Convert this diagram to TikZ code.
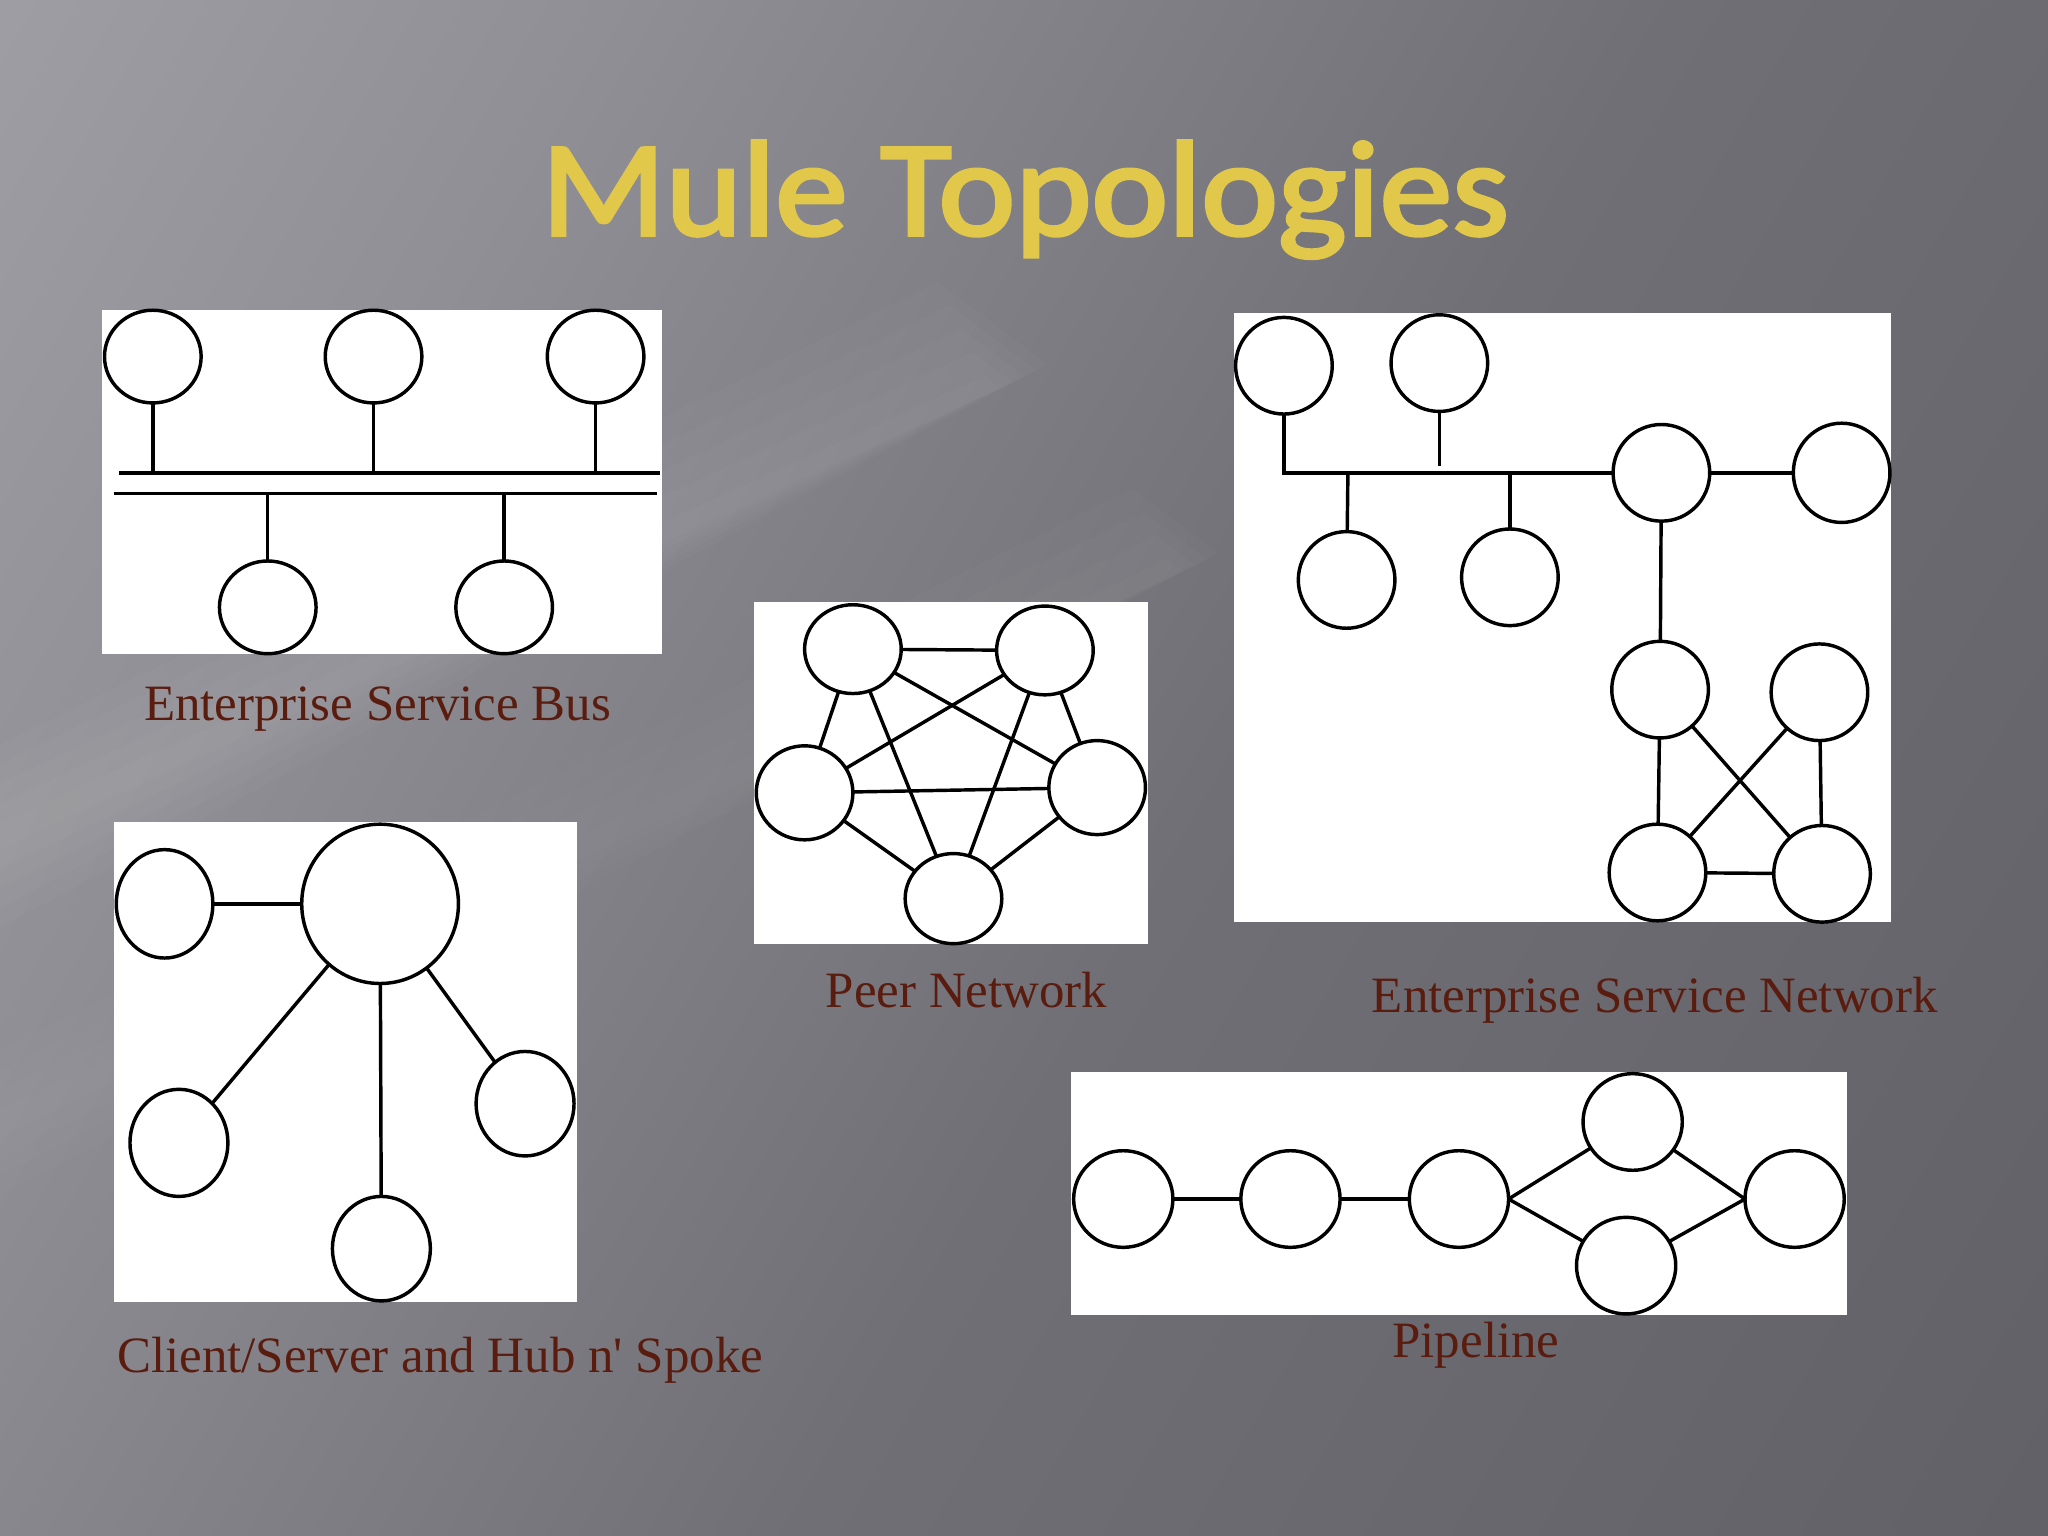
\documentclass[tikz,border=0pt]{standalone}
\usepackage{fontspec}
\setmainfont[Ligatures=TeXOff]{Liberation Serif}
\newfontfamily\titlefont{Carlito}[BoldFont=Carlito, BoldFeatures={FakeBold=2.5}]
\usetikzlibrary{shapes.geometric}
\definecolor{lab}{RGB}{90,28,14}
\definecolor{gold}{RGB}{226,200,74}
\definecolor{bgA}{RGB}{174,173,180}
\definecolor{bgB}{RGB}{144,143,150}
\definecolor{bgC}{RGB}{112,111,118}
\definecolor{bgD}{RGB}{90,89,96}
\pgfdeclarehorizontalshading{bgsh}{100bp}{color(0bp)=(bgA); color(30bp)=(bgB); color(55bp)=(bgC); color(100bp)=(bgD)}
\tikzset{
  nd/.style={ellipse, draw=black, fill=white, line width=1.5pt, inner sep=0pt, outer sep=0pt, minimum width=1.48cm, minimum height=1.44cm},
  ln/.style={draw=black, line width=1.5pt},
  lbl/.style={text=lab, font=\fontsize{22.2}{26}\selectfont, anchor=base, inner sep=0pt},
  panel/.style={fill=white}
}
\begin{document}
\begin{tikzpicture}[x=0.02cm, y=-0.02cm]
% background
\useasboundingbox (0,0) rectangle (1568,1176);
\shade[shading=bgsh, shading angle=-30] (0,0) rectangle (1568,1176);
% soft light streaks
\foreach \w in {10,25,40,55,70}
  \fill[white, opacity=0.018] (0,{640-\w}) -- (0,{640+\w}) -- ({760+\w*0.6},{300-\w*0.3}) -- ({760-\w*0.6},{300-\w*1.2}) -- cycle;
\foreach \w in {10,25,40,55}
  \fill[white, opacity=0.015] (0,{860-\w}) -- (0,{860+\w}) -- ({900+\w*0.6},{440-\w*0.3}) -- ({900-\w*0.6},{440-\w*1.2}) -- cycle;

% title
\node[anchor=base, text=gold, xscale=1.07, font=\titlefont\bfseries\fontsize{59.2}{66}\selectfont] (title) at (785,180) {Mule Topologies};

% ===== Enterprise Service Bus =====
\fill[panel] (78,237) rectangle (507,501);
\node[nd, minimum height=1.42cm] (e1) at (117,273) {};
\node[nd, minimum height=1.42cm] (e2) at (286,273) {};
\node[nd, minimum height=1.42cm] (e3) at (456,273) {};
\node[nd, minimum height=1.42cm] (e4) at (205,465) {};
\node[nd, minimum height=1.42cm] (e5) at (386,465) {};
\coordinate (busAl) at (91,362);  \coordinate (busAr) at (505,362);
\coordinate (busBl) at (87,378);  \coordinate (busBr) at (503,378);
\coordinate (s1) at (117,362); \coordinate (s2) at (286,362); \coordinate (s3) at (456,362);
\coordinate (s4) at (205,378); \coordinate (s5) at (386,378);
\draw[ln] (busAl) -- (busAr);
\draw[ln] (busBl) -- (busBr);
\draw[ln] (e1) -- (s1);
\draw[ln] (e2) -- (s2);
\draw[ln] (e3) -- (s3);
\draw[ln] (e4) -- (s4);
\draw[ln] (e5) -- (s5);
\node[lbl] (lesb) at (289,552) {Enterprise Service Bus};

% ===== Client/Server and Hub n' Spoke =====
\fill[panel] (87,629) rectangle (442,997);
\node[nd, minimum width=2.4cm, minimum height=2.44cm] (hub) at (291,692) {};
\node[nd, minimum height=1.66cm] (c1) at (126,692) {};
\node[nd, minimum width=1.5cm, minimum height=1.64cm] (c2) at (137,875) {};
\node[nd, minimum width=1.5cm, minimum height=1.6cm] (c3) at (292,956) {};
\node[nd, minimum width=1.5cm, minimum height=1.6cm] (c4) at (402,845) {};
\draw[ln] (c1) -- (hub);
\draw[ln] (hub) -- (c2);
\draw[ln] (hub) -- (c3);
\draw[ln] (hub) -- (c4);
\node[lbl] (lcs) at (337,1051) {Client/Server and Hub n' Spoke};

% ===== Peer Network =====
\fill[panel] (577,461) rectangle (879,723);
\node[nd, minimum height=1.36cm] (p1) at (653,497) {};
\node[nd, minimum height=1.36cm] (p2) at (800,498) {};
\node[nd] (p3) at (616,607) {};
\node[nd] (p4) at (840,603) {};
\node[nd, minimum height=1.38cm] (p5) at (730,688) {};
\foreach \a/\b in {p1/p2, p2/p4, p4/p5, p5/p3, p3/p1, p1/p4, p1/p5, p2/p3, p2/p5, p3/p4}
  \draw[ln] (\a) -- (\b);
\node[lbl] (lpeer) at (740,771) {Peer Network};

% ===== Enterprise Service Network =====
\fill[panel] (945,240) rectangle (1448,706);
\node[nd, minimum height=1.48cm] (nA) at (983,280) {};
\node[nd, minimum height=1.48cm] (nB) at (1102,278) {};
\node[nd, minimum height=1.48cm] (nC) at (1031,444) {};
\node[nd, minimum height=1.48cm] (nD) at (1156,442) {};
\node[nd, minimum height=1.48cm] (nE) at (1272,362) {};
\node[nd, minimum height=1.52cm] (nF) at (1410,362) {};
\node[nd, minimum height=1.48cm] (nG) at (1271,528) {};
\node[nd, minimum height=1.48cm] (nH) at (1393,530) {};
\node[nd, minimum height=1.48cm] (nI) at (1269,668) {};
\node[nd, minimum height=1.48cm] (nJ) at (1395,669) {};
\coordinate (bB) at (1102,357);
\coordinate (bC) at (1032,362);
\coordinate (bD) at (1156,362);
\draw[ln] (nA) |- (nE);
\draw[ln] (nB) -- (bB);
\draw[ln] (bC) -- (nC);
\draw[ln] (bD) -- (nD);
\draw[ln] (nE) -- (nF);
\draw[ln] (nE) -- (nG);
\draw[ln] (nG) -- (nI);
\draw[ln] (nH) -- (nJ);
\draw[ln] (nG) -- (nJ);
\draw[ln] (nH) -- (nI);
\draw[ln] (nI) -- (nJ);
\node[lbl] (lesn) at (1267,775) {Enterprise Service Network};

% ===== Pipeline =====
\fill[panel] (820,821) rectangle (1414,1007);
\node[nd, minimum width=1.52cm, minimum height=1.48cm] (q1) at (860,918) {};
\node[nd, minimum width=1.52cm, minimum height=1.48cm] (q2) at (988,918) {};
\node[nd, minimum width=1.52cm, minimum height=1.48cm] (q3) at (1117,918) {};
\node[nd, minimum width=1.52cm, minimum height=1.48cm] (q4) at (1250,859) {};
\node[nd, minimum width=1.52cm, minimum height=1.48cm] (q5) at (1245,969) {};
\node[nd, minimum width=1.52cm, minimum height=1.48cm] (q6) at (1374,918) {};
\draw[ln] (q1) -- (q2);
\draw[ln] (q2) -- (q3);
\draw[ln] (q3.east) -- (q4);
\draw[ln] (q3.east) -- (q5);
\draw[ln] (q4) -- (q6.west);
\draw[ln] (q5) -- (q6.west);
\node[lbl] (lpipe) at (1130,1039) {Pipeline};
\end{tikzpicture}
\end{document}
